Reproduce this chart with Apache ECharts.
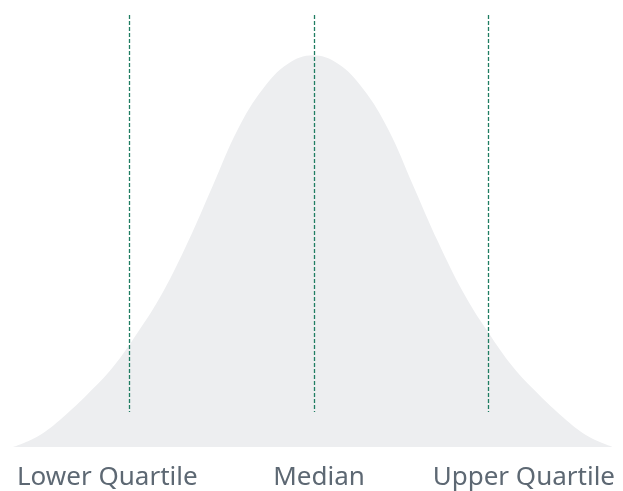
<!DOCTYPE html>
<html><head><meta charset="utf-8">
<script src="https://cdn.jsdelivr.net/npm/echarts@6/dist/echarts.min.js"></script>
<style>html,body{margin:0;padding:0;background:#fff}#c{width:623px;height:491px}</style>
</head><body><div id="c"></div>
<script>
// Distribution curve (z-score-like units, density scaled 0..1)
const curveX = [-2.99,-2.74,-2.49,-2.24,-1.99,-1.74,-1.49,-1.24,-0.99,-0.74,-0.49,-0.24,0.01,0.26,0.51,0.76,1.01,1.26,1.51,1.76,2.01,2.26,2.51,2.76,3.01];
const curveY = [0.000,0.025,0.069,0.123,0.185,0.266,0.359,0.475,0.606,0.736,0.829,0.887,0.907,0.887,0.829,0.736,0.606,0.475,0.359,0.266,0.185,0.123,0.069,0.025,0.000];
const markerNames = ['Lower Quartile','Median','Upper Quartile'];
const markerX = [-1.83, 0.02, 1.76];
const markerTop = 1.0, markerBottom = 0.081;

const chart = echarts.init(document.getElementById('c'));
const font = '"Noto Sans", "Open Sans", sans-serif';
const labelStyle = (t, align) => ({text:t,font:'26px '+font,fill:'#5d6873',align:align});
chart.setOption({
  animation:false,
  grid:{left:12,right:11,top:15,bottom:44},
  xAxis:{type:'value',min:-3,max:3,show:false},
  yAxis:{type:'value',min:0,max:1,show:false},
  series:[
    {type:'line',smooth:0.4,symbol:'none',lineStyle:{width:0},
     areaStyle:{color:'#edeef0',opacity:1},
     data:curveX.map((x,i)=>[x,curveY[i]])},
    {type:'lines',coordinateSystem:'cartesian2d',z:5,
     lineStyle:{color:'#1f7d62',width:1.3,type:[4,2],opacity:1},
     data:markerX.map(x=>({coords:[[x,markerTop],[x,markerBottom]]}))}
  ],
  graphic:[
    {type:'text',x:17,y:465,style:labelStyle(markerNames[0],'left')},
    {type:'text',x:319,y:465,style:labelStyle(markerNames[1],'center')},
    {type:'text',x:615,y:465,style:labelStyle(markerNames[2],'right')}
  ]
});
</script></body></html>
